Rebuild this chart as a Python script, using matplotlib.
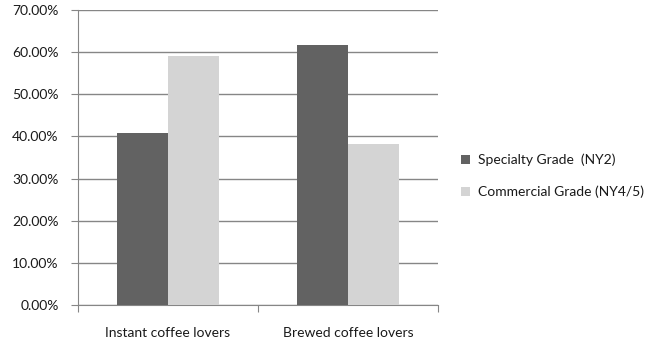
import matplotlib.pyplot as plt
import numpy as np
from matplotlib.ticker import FuncFormatter

categories = ["Instant coffee lovers", "Brewed coffee lovers"]
specialty = [40.8, 61.7]
commercial = [59.2, 38.3]
series_names = ["Specialty Grade  (NY2)", "Commercial Grade (NY4/5)"]

plt.rcParams['font.family'] = ['Lato', 'DejaVu Sans']

fig = plt.figure(figsize=(6.71, 3.45), dpi=100)
ax = fig.add_axes([78 / 671, 1 - 305 / 345, 360 / 671, 295 / 345])

x = np.arange(len(categories))
w = 1 / 3.5
ax.bar(x - w / 2, specialty, w, color="#626262", label=series_names[0], zorder=3)
ax.bar(x + w / 2, commercial, w, color="#d4d4d4", label=series_names[1], zorder=3)

ax.set_xlim(-0.5, 1.5)
ax.set_ylim(0, 70)
ax.set_yticks(np.arange(0, 71, 10))
ax.yaxis.set_major_formatter(FuncFormatter(lambda v, p: f"{v:.2f}%"))
ax.yaxis.grid(True, color="#868686", linewidth=1, zorder=0)

ax.set_xticks([-0.5, 0.5, 1.5])
ax.set_xticklabels([])
ax.set_xticks(x, minor=True)
ax.set_xticklabels(categories, minor=True)
ax.tick_params(axis="x", which="minor", length=0, pad=16)
ax.tick_params(axis="x", which="major", length=5, color="#868686")
ax.tick_params(axis="y", length=5, color="#868686", pad=9)
ax.tick_params(labelsize=10, labelcolor="#1a1a1a")
ax.tick_params(axis="x", which="minor", labelsize=10, labelcolor="#1a1a1a")

for s in ["top", "right"]:
    ax.spines[s].set_visible(False)
for s in ["left", "bottom"]:
    ax.spines[s].set_color("#868686")

ax.legend(loc="center left", bbox_to_anchor=(448 / 671, 1 - 176 / 345),
          bbox_transform=fig.transFigure, frameon=False, fontsize=10,
          handlelength=0.65, handleheight=0.65, labelspacing=1.4, handletextpad=0.6,
          labelcolor="#1a1a1a")

fig.savefig("out.png", dpi=100)
